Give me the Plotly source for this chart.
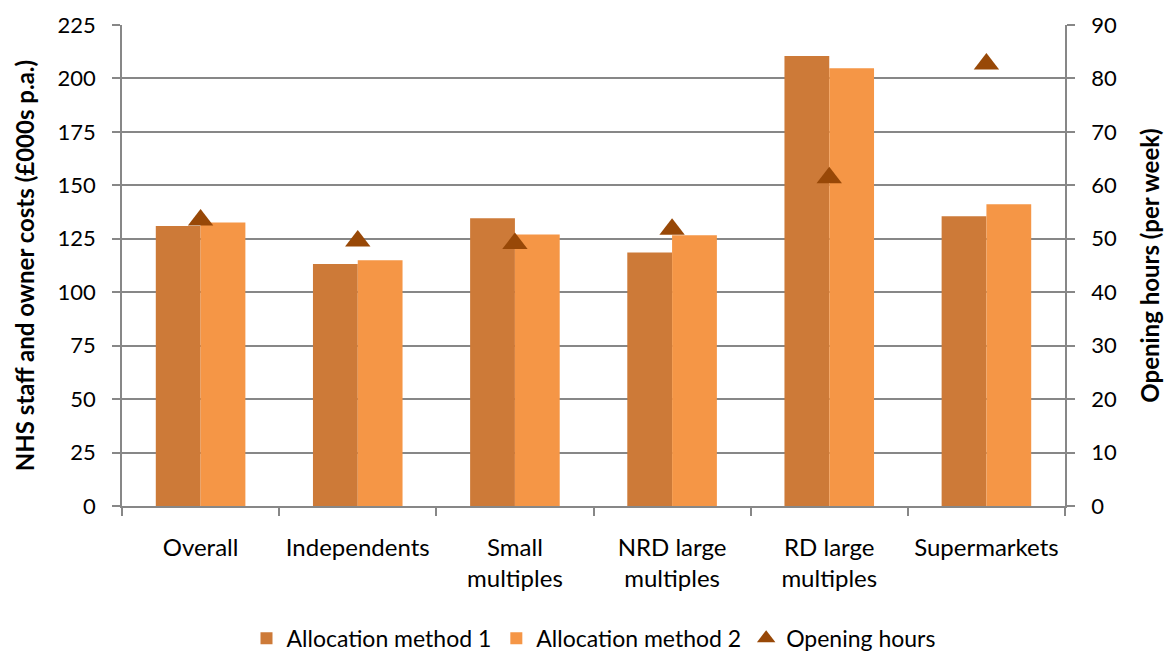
import plotly.graph_objects as go

categories = ["Overall", "Independents", "Small<br>multiples", "NRD large<br>multiples", "RD large<br>multiples", "Supermarkets"]
method1 = [131.0, 113.2, 134.6, 118.6, 210.5, 135.5]
method2 = [132.6, 115.0, 127.0, 126.6, 204.8, 141.2]
opening_hours = [53.5, 49.6, 49.1, 51.8, 61.4, 82.7]

FONT = "Lato, Open Sans, sans-serif"
GRID = "#878787"

fig = go.Figure()
fig.add_trace(go.Bar(x=categories, y=method1, name="Allocation method 1",
                     marker=dict(color="#CD7A38", line=dict(width=0))))
fig.add_trace(go.Bar(x=categories, y=method2, name="Allocation method 2",
                     marker=dict(color="#F59646", line=dict(width=0))))
fig.add_trace(go.Scatter(x=categories, y=opening_hours, name="Opening hours", yaxis="y2",
                         mode="markers",
                         marker=dict(symbol="triangle-up", size=22, color="#984807")))

fig.update_layout(
    width=1169, height=659,
    margin=dict(l=122, r=104, t=25, b=153, autoexpand=False),
    paper_bgcolor="white", plot_bgcolor="white",
    font=dict(family=FONT, size=22, color="#000000"),
    barmode="group", bargap=0.43, bargroupgap=0,
    showlegend=True,
    legend=dict(orientation="h", x=0.5, xanchor="center", y=-0.275, yanchor="middle",
                font=dict(size=23), itemwidth=30, traceorder="normal"),
    xaxis=dict(type="category", showgrid=False, showline=True, linecolor=GRID, linewidth=1.5,
               ticks="outside", tickson="boundaries", ticklen=8, tickcolor=GRID, tickwidth=1.5,
               tickfont=dict(size=24), ticklabelstandoff=19),
    yaxis=dict(range=[0, 225], dtick=25, showgrid=True, gridcolor=GRID, gridwidth=1.5,
               showline=True, linecolor=GRID, linewidth=1.5, ticks="outside", ticklen=8,
               tickcolor=GRID, tickwidth=1.5, tickfont=dict(size=22), ticklabelstandoff=12,
               zeroline=False,
               title=dict(text="<b>NHS staff and owner costs (£000s p.a.)</b>",
                          font=dict(size=24), standoff=16)),
    yaxis2=dict(range=[0, 90], dtick=10, overlaying="y", side="right", showgrid=False,
                showline=True, linecolor=GRID, linewidth=1.5, ticks="outside", ticklen=8,
                tickcolor=GRID, tickwidth=1.5, tickfont=dict(size=22), ticklabelstandoff=12,
                zeroline=False,
                title=dict(text="<b>Opening hours (per week)</b>", font=dict(size=24), standoff=26)),
)

fig.write_html("out.html")
